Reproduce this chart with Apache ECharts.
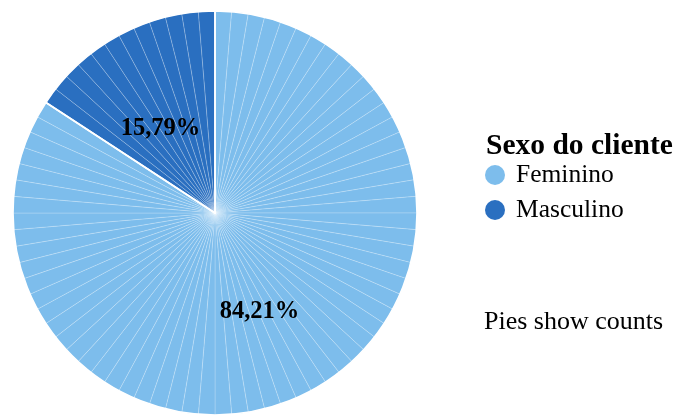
<!DOCTYPE html>
<html>
<head>
<meta charset="utf-8">
<script src="https://cdn.jsdelivr.net/npm/echarts@6/dist/echarts.min.js"></script>
<style>
  html, body { margin: 0; padding: 0; background: #ffffff; }
  #chart { width: 679px; height: 416px; }
</style>
</head>
<body>
<div id="chart"></div>
<script>
// Customer counts by sex; each customer is drawn as its own thin slice
const categories = ['Feminino', 'Masculino'];
const counts = [64, 12];
const colors = ['#7dbdec', '#2a6fc0'];
const legendTitle = 'Sexo do cliente';
const note = 'Pies show counts';

const total = counts.reduce((a, b) => a + b, 0);
const serif = "'Liberation Serif', 'DejaVu Serif', serif";

// one unit slice per record, coloured by its category
const unitSlices = [];
categories.forEach((cat, i) => {
  for (let k = 0; k < counts[i]; k++) {
    unitSlices.push({ name: cat, value: 1, itemStyle: { color: colors[i] } });
  }
});

const groupSlices = categories.map((cat, i) => ({ name: cat, value: counts[i] }));

const chart = echarts.init(document.getElementById('chart'), null, { renderer: 'canvas' });
chart.setOption({
  animation: false,
  backgroundColor: '#ffffff',
  title: {
    text: legendTitle,
    left: 481,
    top: 126,
    textStyle: { fontFamily: serif, fontWeight: 'bold', fontSize: 29.5, color: '#000000' }
  },
  legend: {
    orient: 'vertical',
    left: 485,
    top: 162,
    padding: 0,
    icon: 'circle',
    itemWidth: 20,
    itemHeight: 20,
    itemGap: 9,
    itemStyle: { borderWidth: 0 },
    data: categories.map((c, i) => ({ name: c, itemStyle: { color: colors[i], borderWidth: 0 } })),
    textStyle: { fontFamily: serif, fontSize: 25.5, lineHeight: 20, color: '#000000', padding: [0, 0, 0, 6] },
    selectedMode: false
  },
  graphic: [{
    type: 'text',
    left: 484,
    top: 309,
    style: { text: note, font: "26px " + serif, fill: '#000000' }
  }],
  series: [
    {
      type: 'pie',
      center: [215, 213],
      radius: [0, 202],
      startAngle: 90,
      clockwise: true,
      silent: true,
      label: { show: false },
      labelLine: { show: false },
      itemStyle: { borderColor: 'rgba(255,255,255,0.42)', borderWidth: 0.5 },
      data: unitSlices
    },
    {
      type: 'pie',
      center: [215, 213],
      radius: [0, 202],
      startAngle: 90,
      clockwise: true,
      silent: true,
      z: 3,
      itemStyle: { color: 'rgba(0,0,0,0)', borderColor: '#ffffff', borderWidth: 1.6 },
      label: {
        show: true,
        position: 'inside',
        offset: [-5, 7],
        fontFamily: serif,
        fontWeight: 'bold',
        fontSize: 24.5,
        color: '#000000',
        formatter: p => (p.value / total * 100).toFixed(2).replace('.', ',') + '%'
      },
      labelLine: { show: false },
      data: groupSlices
    }
  ]
});
</script>
</body>
</html>
